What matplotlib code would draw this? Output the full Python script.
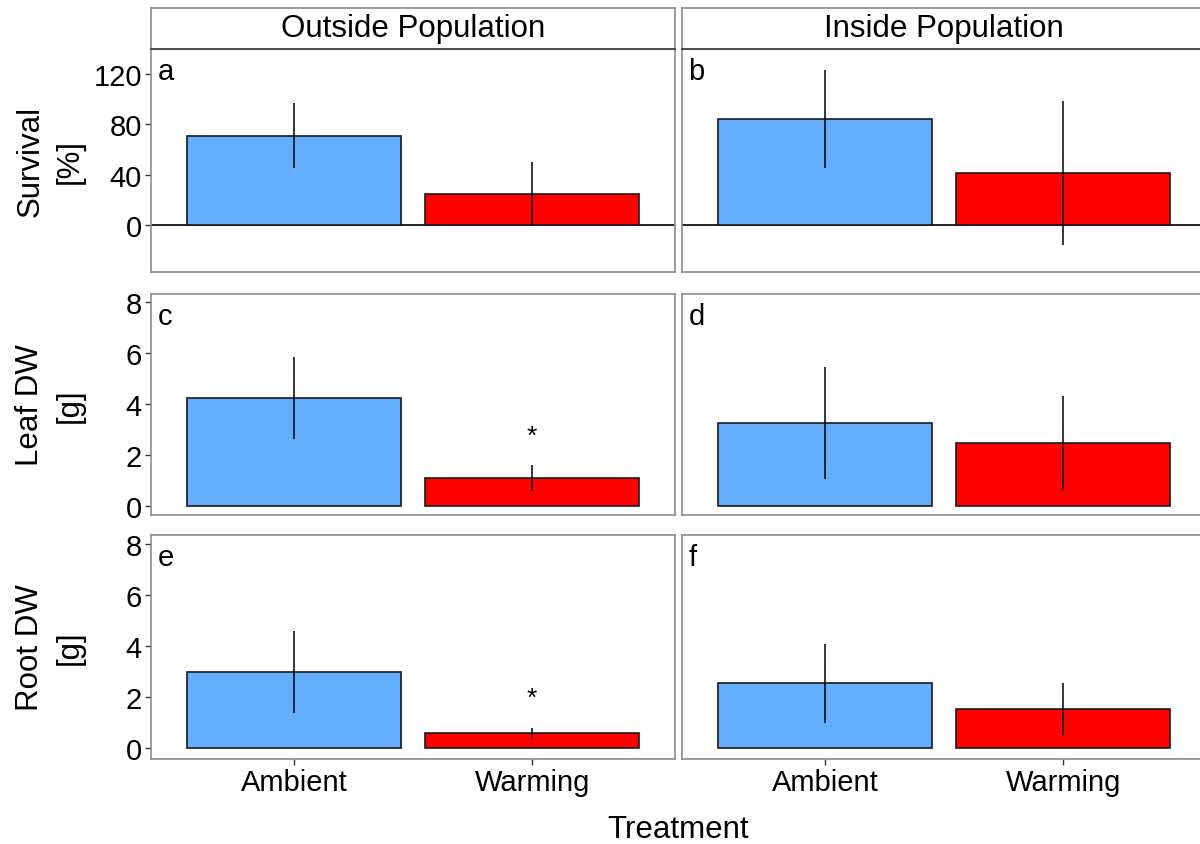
import matplotlib
matplotlib.use("Agg")
import matplotlib.pyplot as plt
import numpy as np

plt.rcParams["font.family"] = ["Liberation Sans", "DejaVu Sans"]

treatments = ["Ambient", "Warming"]
populations = ["Outside Population", "Inside Population"]
colors = ["#63AEFF", "#FF0000"]

# Mittelwerte und Fehler, Reihenfolge: [outside, inside] x [ambient, warming]
survival = [[71, 25], [84, 41]]
survival_err = [[26, 25], [38.5, 57]]
leaf_dw = [[4.25, 1.1], [3.27, 2.47]]
leaf_err = [[1.6, 0.5], [2.2, 1.85]]
root_dw = [[2.97, 0.57], [2.53, 1.53]]
root_err = [[1.6, 0.2], [1.55, 1.0]]

# Signifikanz-Sternchen (nur outside, warming)
star_leaf = 2.75
star_root = 1.96

rows = [
    ("Survival\n[%]", survival, survival_err, (-37, 139.5), [0, 40, 80, 120], ["a", "b"], None),
    ("Leaf DW\n[g]", leaf_dw, leaf_err, (-0.35, 8.32), [0, 2, 4, 6, 8], ["c", "d"], star_leaf),
    ("Root DW\n[g]", root_dw, root_err, (-0.43, 8.35), [0, 2, 4, 6, 8], ["e", "f"], star_root),
]

W, H = 1200, 845
fig = plt.figure(figsize=(12, 8.45), dpi=100)

# rechtes Panel ist im Original rechts abgeschnitten
col_x = [(151, 675), (682, 1206)]
row_y = [(50, 273), (295, 516), (536, 760)]
edge = "#8C8C8C"
fs = 22.5
fs_tick = 21

x = np.array([1, 2])
for r, (ylab, vals, errs, ylim, yticks, letters, star) in enumerate(rows):
    for c in range(2):
        x0, x1 = col_x[c]
        y0, y1 = row_y[r]
        ax = fig.add_axes([x0 / W, 1 - y1 / H, (x1 - x0) / W, (y1 - y0) / H])
        ax.bar(x, vals[c], width=0.9, color=colors, edgecolor="#1a1a1a", linewidth=1.2, zorder=2)
        ax.vlines(x, np.array(vals[c]) - np.array(errs[c]), np.array(vals[c]) + np.array(errs[c]),
                  color="black", linewidth=1.1, zorder=3)
        if r == 0:
            ax.axhline(0, color="black", linewidth=1.2, zorder=1)
        if star is not None and c == 0:
            ax.text(2, star, "*", ha="center", va="center", fontsize=19, zorder=4)
        ax.set_xlim(0.4, 2.6)
        ax.set_ylim(*ylim)
        ax.text(0.012, 0.965, letters[c], transform=ax.transAxes, ha="left", va="top", fontsize=fs_tick)
        for s in ax.spines.values():
            s.set_color(edge)
            s.set_linewidth(1.2)
        ax.tick_params(colors="#333333", labelcolor="black", length=4, width=1,
                       labelsize=fs_tick, pad=2.5)
        if c == 0:
            ax.set_yticks(yticks)
        else:
            ax.set_yticks([])
        if r == 2:
            ax.set_xticks(x)
            ax.set_xticklabels(treatments)
        else:
            ax.set_xticks([])
        if r == 0:
            # Streifen oben mit Populationsname
            sax = fig.add_axes([x0 / W, 1 - y0 / H, (x1 - x0) / W, 41 / H])
            sax.set_xticks([])
            sax.set_yticks([])
            for s in sax.spines.values():
                s.set_color(edge)
                s.set_linewidth(1.2)
            sax.spines["bottom"].set_color("#333333")
            sax.text(0.5, 0.5, populations[c], ha="center", va="center", fontsize=fs)
    fig.text(50 / W, 1 - (sum(row_y[r]) / 2) / H, ylab, rotation=90, ha="center", va="center",
             fontsize=fs, multialignment="center", linespacing=1.4)

fig.text(678 / W, 1 - 830 / H, "Treatment", ha="center", va="center", fontsize=fs)

fig.savefig("out.png", dpi=100)
